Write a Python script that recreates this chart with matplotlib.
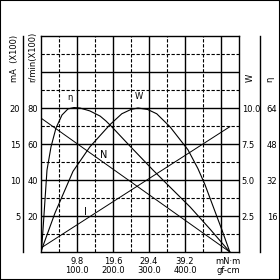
import matplotlib.pyplot as plt
from matplotlib.patches import Rectangle

# torque axis (mN*m)
x_ticks = [9.8, 19.6, 29.4, 39.2, 49.0]
x_labels = ["9.8\n100.0", "19.6\n200.0", "29.4\n300.0", "39.2\n400.0", ""]

# straight lines: speed and current
line_torque = [0.0, 51.4]
speed = [74.4, 0.0]      # r/min (x100)
current = [0.56, 17.4]   # mA (x100)

# efficiency curve
eta_torque = [0.1, 0.54, 1.63, 2.72, 4.08, 5.72, 7.35, 8.98, 10.6, 13.3,
              16.1, 17.7, 19.3, 24.2, 30.5, 35.1, 40.6, 46.0, 51.4]
eta = [0, 9.8, 36.4, 46.7, 55.1, 60.9, 63.6, 64.2, 64.0, 62.7,
       60.4, 58.2, 55.6, 47.1, 36.4, 28.9, 20.0, 10.2, 0]

# output power curve
w_torque = [0.0, 0.54, 3.81, 8.71, 13.3, 18.8, 22.0, 24.5, 26.4, 29.0, 31.5,
            35.1, 40.0, 42.7, 44.6, 46.8, 49.3, 51.4]
power = [0, 0.42, 2.71, 5.6, 7.3, 8.85, 9.6, 9.9, 10.0, 9.9, 9.6,
         8.7, 7.1, 5.8, 4.7, 3.2, 1.5, 0]

speed_ticks = [20, 40, 60, 80]
current_ticks = [5, 10, 15, 20]
power_ticks = [2.5, 5.0, 7.5, 10.0]
eta_ticks = [16, 32, 48, 64]

fs = 6
fam = "DejaVu Sans"

fig = plt.figure(figsize=(2.8, 2.8), dpi=100)
ax = fig.add_axes([41/280, 28/280, 198/280, 216/280])
ax.set_xlim(0, 53.9)
ax.set_ylim(0, 120)

ax.set_xticks(x_ticks)
ax.set_xticklabels(x_labels, fontsize=fs, family=fam, linespacing=0.95)
ax.set_xticks([4.9, 14.7, 24.5, 34.3, 44.1], minor=True)
ax.set_yticks([20, 40, 60, 80, 100])
ax.set_yticklabels([str(v) for v in speed_ticks] + [""], fontsize=fs, family=fam)
ax.set_yticks([10, 30, 50, 70, 90, 110], minor=True)
ax.tick_params(which="both", length=0)
ax.tick_params(axis="x", pad=3.5)
ax.tick_params(axis="y", pad=2)
ax.grid(which="major", color="black", linewidth=1.0)
ax.grid(which="minor", color="black", linewidth=0.8, linestyle=(0, (3, 1.5)))
for s in ax.spines.values():
    s.set_linewidth(1.0)

ax.plot(line_torque, speed, color="black", linewidth=0.7)

# current, own scale on the left
ax_i = ax.twinx()
ax_i.set_ylim(0, 30)
ax_i.yaxis.set_ticks_position("left")
ax_i.spines["left"].set_visible(True)
ax_i.spines["left"].set_position(("outward", 13))
ax_i.spines["left"].set_linewidth(1.0)
for k in ["right", "top", "bottom"]:
    ax_i.spines[k].set_visible(False)
ax_i.set_yticks(current_ticks)
ax_i.set_yticklabels([str(v) for v in current_ticks], fontsize=fs, family=fam)
ax_i.tick_params(length=0, pad=2)
ax_i.plot(line_torque, current, color="black", linewidth=0.7)

# power, right scale
ax_w = ax.twinx()
ax_w.set_ylim(0, 15)
for s in ax_w.spines.values():
    s.set_visible(False)
ax_w.set_yticks(power_ticks)
ax_w.set_yticklabels(["%.1f" % v for v in power_ticks], fontsize=fs, family=fam)
ax_w.tick_params(length=0, pad=2)
ax_w.plot(w_torque, power, color="black", linewidth=0.8)

# efficiency, outer right scale
ax_e = ax.twinx()
ax_e.set_ylim(0, 96)
for k in ["left", "top", "bottom"]:
    ax_e.spines[k].set_visible(False)
ax_e.spines["right"].set_position(("outward", 15))
ax_e.spines["right"].set_linewidth(1.0)
ax_e.set_yticks(eta_ticks)
ax_e.set_yticklabels([str(v) for v in eta_ticks], fontsize=fs, family=fam)
ax_e.tick_params(length=0, pad=5)
ax_e.plot(eta_torque, eta, color="black", linewidth=0.8)

# curve names
ax.text(7.9, 83.3, "η", fontsize=fs, family=fam, ha="center", va="bottom")
ax.text(26.7, 83.9, "W", fontsize=fs, family=fam, ha="center", va="bottom")
ax.text(17.1, 53.9, "N", fontsize=fs+1, family=fam, ha="center", va="center")
ax.text(12.0, 22.2, "I", fontsize=fs+1, family=fam, ha="center", va="center")

# axis names
ty = 1 - 82/280
fig.text(15/280, ty, "mA  (X100)", rotation=90, fontsize=fs, family=fam, ha="center", va="bottom")
fig.text(33/280, ty, "r/min(X100)", rotation=90, fontsize=fs, family=fam, ha="center", va="bottom")
fig.text(250/280, ty, "W", rotation=90, fontsize=fs, family=fam, ha="center", va="bottom")
fig.text(270/280, ty, "η", rotation=90, fontsize=fs, family=fam, ha="center", va="bottom")
fig.text(228/280, 1 - 257/280, "mN·m\ngf-cm", fontsize=fs, family=fam, ha="center", va="top", linespacing=0.95)

fig.patches.append(Rectangle((0, 0), 1, 1, transform=fig.transFigure, fill=False,
                             edgecolor="black", linewidth=1.5))

fig.savefig("out.png", dpi=100)
